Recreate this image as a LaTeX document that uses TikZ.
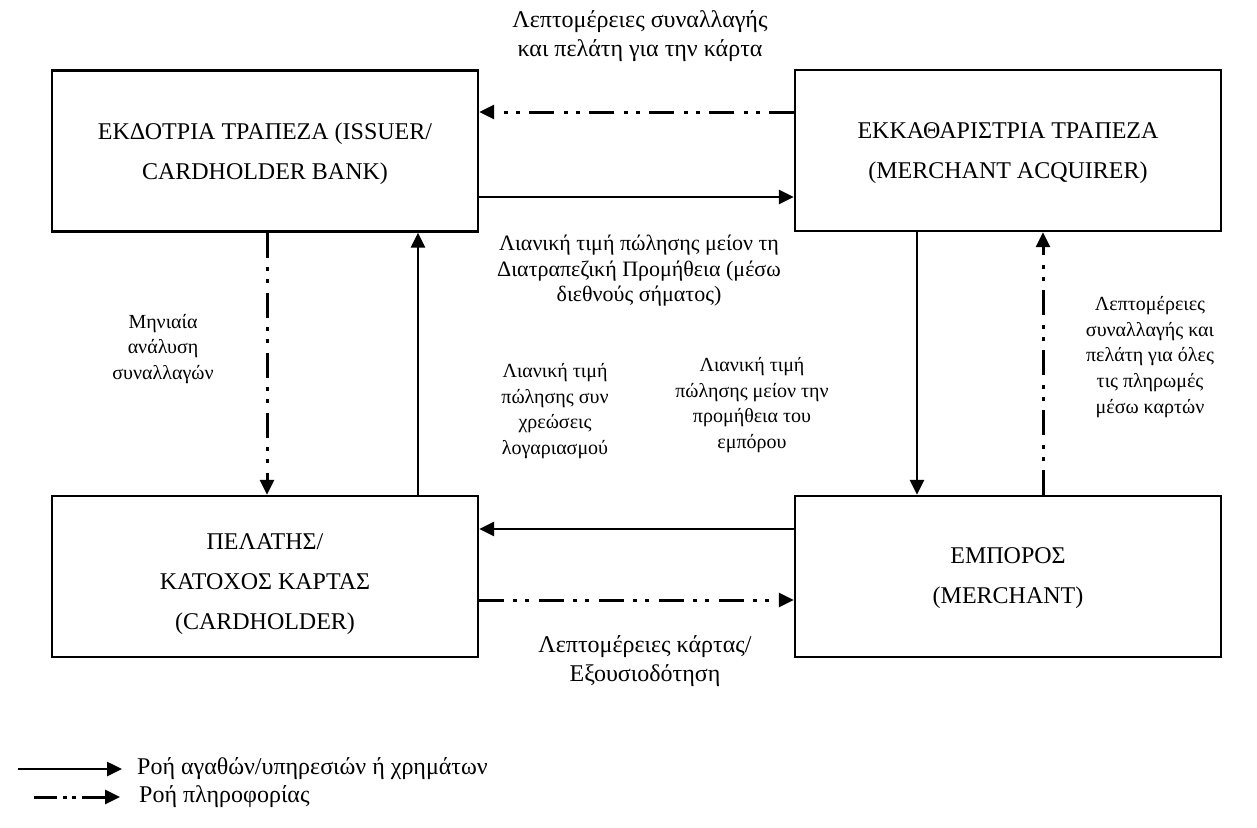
\documentclass[tikz,border=0pt]{standalone}
\usepackage{fontspec}
\setmainfont{Liberation Serif}
\usetikzlibrary{arrows.meta}
\tikzset{
  box/.style={draw, line width=2.4pt, minimum width=426pt, minimum height=161pt, inner sep=0pt},
  boxtxt/.style={align=center, inner sep=0pt, font=\fontsize{24}{40}\selectfont},
  lbl/.style={align=center, inner sep=0pt, font=\fontsize{20}{25.7}\selectfont},
  biglbl/.style={align=center, inner sep=0pt, font=\fontsize{24}{29}\selectfont},
  midlbl/.style={align=center, inner sep=0pt, font=\fontsize{22}{25.5}\selectfont},
  tip/.style={-{Triangle[length=15pt,width=14pt]}},
  flow/.style={line width=2.6pt, tip},
  info/.style={line width=3pt, dash pattern=on 25pt off 9pt on 4pt off 8pt on 4pt off 10pt, tip},
  infoleg/.style={line width=3pt, dash pattern=on 23pt off 6pt on 4pt off 5pt on 4pt off 6pt, tip},
}
\begin{document}
\begin{tikzpicture}[x=1pt,y=-1pt]
\useasboundingbox (0,0) rectangle (1257,827);
% boxes
\node[box] (iss) at (265,151) {};
\node[box] (acq) at (1008,150.5) {};
\node[box] (card) at (265,576.5) {};
\node[box] (mer) at (1008,576.5) {};
\node[boxtxt] (isst) at ([yshift=-3pt]iss.center) {ΕΚΔΟΤΡΙΑ ΤΡΑΠΕΖΑ (ISSUER/\\CARDHOLDER BANK)};
\node[boxtxt] (acqt) at ([yshift=-3pt]acq.center) {ΕΚΚΑΘΑΡΙΣΤΡΙΑ ΤΡΑΠΕΖΑ\\(MERCHANT ACQUIRER)};
\node[boxtxt] (cardt) at ([yshift=-8pt]card.center) {ΠΕΛΑΤΗΣ/\\ΚΑΤΟΧΟΣ ΚΑΡΤΑΣ\\(CARDHOLDER)};
\node[boxtxt] (mert) at ([yshift=-2pt]mer.center) {ΕΜΠΟΡΟΣ\\(MERCHANT)};
% helper coordinates
\coordinate (yTop) at (0,112);
\coordinate (yMid) at (0,197);
\coordinate (yB1) at (0,529);
\coordinate (yB2) at (0,600);
\coordinate (xL1) at (267,0);
\coordinate (xL2) at (418,0);
\coordinate (xR1) at (917,0);
\coordinate (xR2) at (1043,0);
% connectors
\draw[info] (acq.west |- yTop) -- (iss.east |- yTop);
\draw[flow] (iss.east |- yMid) -- (acq.west |- yMid);
\draw[info] (iss.south -| xL1) -- (card.north -| xL1);
\draw[flow] (card.north -| xL2) -- (iss.south -| xL2);
\draw[flow] (acq.south -| xR1) -- (mer.north -| xR1);
\draw[info] (mer.north -| xR2) -- (acq.south -| xR2);
\draw[flow] (mer.west |- yB1) -- (card.east |- yB1);
\draw[info] (card.east |- yB2) -- (mer.west |- yB2);
% labels
\node[biglbl] (t1) at (640,36) {Λεπτομέρειες συναλλαγής\\και πελάτη για την κάρτα};
\node[midlbl] (t2) at (639,271) {Λιανική τιμή πώλησης μείον τη\\Διατραπεζική Προμήθεια (μέσω\\διεθνούς σήματος)};
\node[lbl] (t3) at (163,349) {Μηνιαία\\ανάλυση\\συναλλαγών};
\node[lbl] (t4) at (555,411) {Λιανική τιμή\\πώλησης συν\\χρεώσεις\\λογαριασμού};
\node[lbl] (t5) at (752,405) {Λιανική τιμή\\πώλησης μείον την\\προμήθεια του\\εμπόρου};
\node[lbl] (t6) at (1150,357) {Λεπτομέρειες\\συναλλαγής και\\πελάτη για όλες\\τις πληρωμές\\μέσω καρτών};
\node[biglbl] (t7) at (645,661) {Λεπτομέρειες κάρτας/\\Εξουσιοδότηση};
% legend
\coordinate (la1) at (18,769);
\coordinate (lb1) at (122,769);
\coordinate (la2) at (34,797);
\coordinate (lb2) at (120,797);
\draw[flow] (la1) -- (lb1);
\draw[infoleg] (la2) -- (lb2);
\node[biglbl, anchor=west] (leg1) at (137,769) {Ροή αγαθών/υπηρεσιών ή χρημάτων};
\node[biglbl, anchor=west] (leg2) at (139,797) {Ροή πληροφορίας};
\end{tikzpicture}
\end{document}
